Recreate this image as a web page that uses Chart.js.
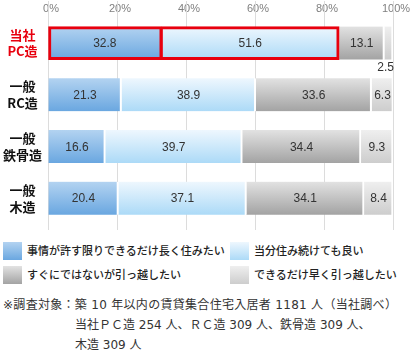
<!DOCTYPE html>
<html><head><meta charset="utf-8">
<script src="https://cdn.jsdelivr.net/npm/chart.js@4/dist/chart.umd.min.js"></script>
<style>
html,body{margin:0;padding:0;background:#fff;}
body{width:414px;height:354px;position:relative;overflow:hidden;font-family:"Noto Sans CJK JP",sans-serif;color:#222;}
#wrap{position:absolute;left:0;top:0;width:414px;height:230px;}
.lg{position:absolute;font-size:11px;line-height:18px;font-weight:500;white-space:nowrap;}
.lg i{position:absolute;left:0;top:0;width:19px;height:18px;}
.lg span{position:absolute;left:24px;top:-1px;}
#note{position:absolute;left:3px;top:295px;font-size:12px;line-height:20px;color:#333;white-space:nowrap;letter-spacing:0.3px;font-family:"DejaVu Sans","Noto Sans CJK JP",sans-serif;}
#note div.ind{padding-left:72px;letter-spacing:0;}
</style></head>
<body>
<div id="wrap"><canvas id="c"></canvas></div>
<div id="legend"></div>
<div id="note">
<div>※調査対象：築 10 年以内の賃貸集合住宅入居者 1181 人（当社調べ）</div>
<div class="ind">当社ＰＣ造 254 人、ＲＣ造 309 人、鉄骨造 309 人、</div>
<div class="ind">木造 309 人</div>
</div>
<script>
const categories = [["当社","PC造"],["一般","RC造"],["一般","鉄骨造"],["一般","木造"]];
const seriesNames = ["事情が許す限りできるだけ長く住みたい","当分住み続けても良い","すぐにではないが引っ越したい","できるだけ早く引っ越したい"];
const stayLong = [32.8, 21.3, 16.6, 20.4];
const staySome = [51.6, 38.9, 39.7, 37.1];
const moveLater = [13.1, 33.6, 34.4, 34.1];
const moveSoon = [2.5, 6.3, 9.3, 8.4];
const tickValues = [0, 20, 40, 60, 80, 100];

const grads = [["#b3d3f1","#6aa7e0"],["#eef7fe","#acdaf7"],["#e2e2e2","#a3a3a3"],["#efefef","#cdcdcd"]];
const RED = "#e8000e";
const GRID = "#dcdcdc";
const BAR_H = 33;

function bg(i){
  return (c) => {
    const chart = c.chart;
    if (!chart.chartArea || !chart.scales.y) return grads[i][1];
    const y = chart.scales.y.getPixelForValue(c.dataIndex);
    const g = chart.ctx.createLinearGradient(0, y - BAR_H/2, 0, y + BAR_H/2);
    g.addColorStop(0, grads[i][0]);
    g.addColorStop(1, grads[i][1]);
    return g;
  };
}
function bc(i){
  return (c) => (c.dataIndex === 0 && i < 2) ? RED : "#ffffff";
}
function bw(i){
  return (c) => {
    if (c.dataIndex === 0 && i === 0) return {top:3,bottom:3,left:3,right:2};
    if (c.dataIndex === 0 && i === 1) return {top:3,bottom:3,left:2,right:3};
    return {top:0,bottom:0,left:0,right:2};
  };
}
const seriesData = [stayLong, staySome, moveLater, moveSoon];

// extend the x grid lines above (through the tick labels) and a little below the plot
const gridExt = {
  id: 'gridExt',
  beforeDatasetsDraw(chart){
    const ctx = chart.ctx, xs = chart.scales.x, a = chart.chartArea;
    ctx.save();
    ctx.strokeStyle = GRID;
    ctx.lineWidth = 1;
    xs.ticks.forEach(t => {
      const px = Math.round(xs.getPixelForValue(t.value)) + 0.5;
      ctx.beginPath();
      ctx.moveTo(px, 1);
      ctx.lineTo(px, a.top);
      ctx.moveTo(px, a.bottom);
      ctx.lineTo(px, a.bottom + 6);
      ctx.stroke();
    });
    ctx.restore();
  }
};

const labelPlugin = {
  id: 'vals',
  afterDatasetsDraw(chart){
    const ctx = chart.ctx;
    ctx.save();
    ctx.font = '12px "Liberation Sans", Arial, sans-serif';
    ctx.fillStyle = '#333';
    ctx.textBaseline = 'middle';
    chart.data.datasets.forEach((ds, di) => {
      const meta = chart.getDatasetMeta(di);
      meta.data.forEach((el, idx) => {
        const v = ds.data[idx];
        const w = Math.abs(el.x - el.base);
        const txt = v.toFixed(1);
        if (w < 16) {
          ctx.textAlign = 'right';
          ctx.fillText(txt, el.x + 1, el.y + BAR_H/2 + 8);
        } else {
          ctx.textAlign = 'center';
          ctx.fillText(txt, (el.x + el.base)/2, el.y + 1);
        }
      });
    });
    ctx.restore();
  }
};

new Chart(document.getElementById('c'), {
  type: 'bar',
  data: {
    labels: categories,
    datasets: seriesData.map((d, i) => ({
      label: seriesNames[i],
      data: d,
      backgroundColor: bg(i),
      borderColor: bc(i),
      borderWidth: bw(i),
      borderSkipped: false,
      barThickness: BAR_H
    }))
  },
  options: {
    indexAxis: 'y',
    responsive: true,
    maintainAspectRatio: false,
    animation: false,
    layout: { padding: { left: 0, right: 21, top: 0, bottom: 6 } },
    plugins: { legend: { display: false }, tooltip: { enabled: false } },
    scales: {
      x: {
        position: 'top',
        stacked: true,
        min: 0, max: 100,
        afterBuildTicks: (s) => { s.ticks = tickValues.map(v => ({value: v})); },
        ticks: {
          callback: (v) => v + '%',
          font: { size: 11, family: '"Liberation Sans", Arial, sans-serif' },
          color: '#808080',
          labelOffset: 3,
          padding: 2,
          maxRotation: 0
        },
        grid: { color: GRID, lineWidth: 1, drawTicks: false },
        border: { display: false }
      },
      y: {
        stacked: true,
        afterFit: (s) => { s.width = 48; s.paddingTop = 0; s.paddingBottom = 0; },
        grid: { display: false, drawTicks: false },
        border: { display: false },
        ticks: {
          crossAlign: 'center',
          padding: 6,
          font: { size: 13, weight: 'bold', family: '"Noto Sans CJK JP", sans-serif', lineHeight: 1.3 },
          color: (c) => c.index === 0 ? RED : '#111'
        }
      }
    }
  },
  plugins: [gridExt, labelPlugin]
});

// HTML legend built from series names and colours
const legendPos = [[3,242],[230,242],[3,266],[230,266]];
const lg = document.getElementById('legend');
seriesNames.forEach((n, i) => {
  const d = document.createElement('div');
  d.className = 'lg';
  d.style.left = legendPos[i][0] + 'px';
  d.style.top = legendPos[i][1] + 'px';
  d.innerHTML = '<i style="background:linear-gradient(' + grads[i][0] + ',' + grads[i][1] + ')"></i><span>' + n + '</span>';
  lg.appendChild(d);
});
</script>
</body></html>
